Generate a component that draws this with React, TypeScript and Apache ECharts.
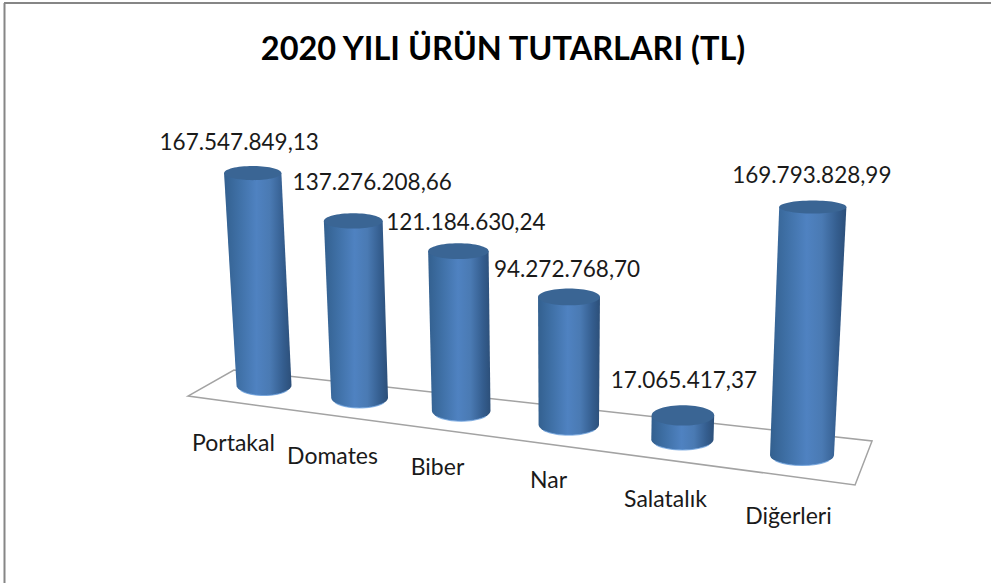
import React, { useEffect, useRef } from "react";
import * as echarts from "echarts";

const TITLE = "2020 YILI ÜRÜN TUTARLARI (TL)";
const categories = ["Portakal", "Domates", "Biber", "Nar", "Salatalık", "Diğerleri"];
const values = [167547849.13, 137276208.66, 121184630.24, 94272768.7, 17065417.37, 169793828.99];
const valueLabels = ["167.547.849,13", "137.276.208,66", "121.184.630,24", "94.272.768,70", "17.065.417,37", "169.793.828,99"];

// Hand-placed label nudges of the original chart (relative to the top of each cylinder).
const labelNudge = [[-13.5, -32], [19, -39], [7.5, -30], [-2, -28], [1, -36], [-1, -33]];
const categoryNudgeY = [1, 1, -2, -4, -1, 0];

const FONT = "Lato";
const bodyGradient = {
  type: "linear", x: 0, y: 0, x2: 1, y2: 0,
  colorStops: [
    { offset: 0, color: "#33608f" },
    { offset: 0.22, color: "#3f70a6" },
    { offset: 0.48, color: "#4f82c1" },
    { offset: 0.68, color: "#4a7ab3" },
    { offset: 0.88, color: "#345d8e" },
    { offset: 1, color: "#2c4f79" },
  ],
};

// Oblique perspective applied on top of the cartesian scales.
function floorPoint(api: any, t: number) {
  const [x0, y0] = api.coord([0, 0]);
  const [x5] = api.coord([5, 0]);
  const x = x0 + ((x5 - x0) * t) / 5 + 3 * t * (t - 5);
  return [x, y0 + (x - x0) * 0.13];
}
const heightScale = (t: number) => 1.265 + 0.0165 * t + 0.0045 * t * t;

function renderFloor(params: any, api: any) {
  if (params.dataIndex !== 0) return null;
  const a = floorPoint(api, -0.5);
  const b = floorPoint(api, 5.5);
  return {
    type: "polygon",
    silent: true,
    shape: {
      points: [
        [a[0] - 30.5, a[1] + 17],
        [a[0] + 15.5, a[1] - 9],
        [b[0] + 8, b[1] - 22],
        [b[0] - 9, b[1] + 22],
      ],
    },
    style: { fill: "#ffffff", stroke: "#a3a3a3", lineWidth: 1.5 },
  };
}

function renderCylinder(params: any, api: any) {
  const t = api.value(0);
  const v = api.value(1);
  const [bx, by] = floorPoint(api, t);
  const h = (api.coord([t, 0])[1] - api.coord([t, v])[1]) * heightScale(t);
  const tx = bx + (bx - 560) * h * 1.8e-4;
  const ty = by - h;
  const br = 27.5 + 0.9 * t;
  const tr = br * (1 + h * 2e-4);
  const bry = 10.5;
  const trY = 10.5 - h * 0.016;
  const arc: number[][] = [];
  for (let k = 0; k <= 28; k++) {
    const a = (Math.PI * k) / 28;
    arc.push([bx + br * Math.cos(a), by + bry * Math.sin(a)]);
  }
  const points = [[tx - tr, ty], [tx + tr, ty], ...arc];
  const nudge = labelNudge[t];
  return {
    type: "group",
    children: [
      { type: "polygon", shape: { points }, style: { fill: bodyGradient } },
      {
        type: "polyline",
        shape: { points: arc.slice(5, 24) },
        style: { fill: "none", stroke: "#6ea2de", lineWidth: 1.2, opacity: 0.75 },
      },
      { type: "ellipse", shape: { cx: tx, cy: ty, rx: tr, ry: trY }, style: { fill: "#3a6594" } },
      {
        type: "text",
        style: {
          text: valueLabels[t], x: tx + nudge[0], y: ty + nudge[1],
          fontFamily: FONT, fontSize: 22.5, fill: "#1a1a1a", align: "center", verticalAlign: "middle",
        },
      },
      {
        type: "text",
        style: {
          text: categories[t], x: bx - 30.5 + 3.4 * t, y: by + 56 + 0.8 * t + categoryNudgeY[t],
          fontFamily: FONT, fontSize: 23, fill: "#1a1a1a", align: "center", verticalAlign: "middle",
        },
      },
    ],
  };
}

export default function App() {
  const ref = useRef<HTMLDivElement>(null);
  useEffect(() => {
    document.body.style.margin = "0";
    document.body.style.background = "#ffffff";
    const chart = echarts.init(ref.current!, null, { renderer: "svg" });
    const data = values.map((v, i) => [i, v]);
    chart.setOption({
      animation: false,
      backgroundColor: "#ffffff",
      title: {
        text: TITLE, left: 498, top: 26, textAlign: "center",
        textStyle: { fontFamily: FONT, fontWeight: "bold", fontSize: 32.5, color: "#000000" },
      },
      grid: { left: 264, width: 538, top: 185, height: 200 },
      xAxis: { type: "category", data: categories, boundaryGap: false, show: false },
      yAxis: { type: "value", min: 0, max: 200000000, show: false },
      graphic: [
        { type: "line", silent: true, shape: { x1: 4, y1: 3, x2: 991, y2: 3 }, style: { stroke: "#868686", lineWidth: 2 } },
        { type: "line", silent: true, shape: { x1: 4.5, y1: 3, x2: 4.5, y2: 583 }, style: { stroke: "#868686", lineWidth: 2 } },
      ],
      series: [
        { type: "custom", coordinateSystem: "cartesian2d", clip: false, z: 1, data, encode: { x: 0, y: 1 }, renderItem: renderFloor },
        { type: "custom", coordinateSystem: "cartesian2d", clip: false, z: 2, data, encode: { x: 0, y: 1 }, renderItem: renderCylinder },
      ],
    });
    return () => chart.dispose();
  }, []);
  return <div ref={ref} style={{ position: "fixed", left: 0, top: 0, width: 991, height: 583 }} />;
}
